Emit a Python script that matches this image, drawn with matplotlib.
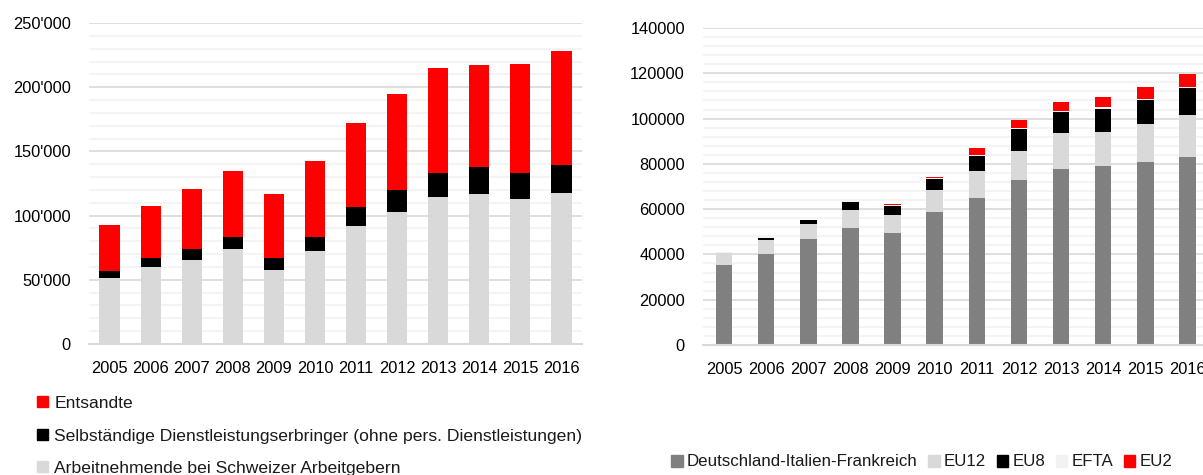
import matplotlib
matplotlib.use("Agg")
import matplotlib.pyplot as plt
from matplotlib.patches import Patch
from matplotlib.ticker import MultipleLocator
import numpy as np

plt.rcParams['font.family'] = ['Liberation Sans', 'DejaVu Sans']
plt.rcParams['font.size'] = 11.5
plt.rcParams['text.color'] = '#1a1a1a'

years = ['2005', '2006', '2007', '2008', '2009', '2010', '2011', '2012', '2013', '2014', '2015', '2016']

# left chart
arbeitnehmende = [51400, 60000, 65500, 74000, 57700, 72500, 92000, 102900, 114600, 116900, 113000, 117700]
selbstaendige = [5500, 7000, 8500, 9400, 9300, 10900, 14800, 17100, 18700, 21100, 20300, 21800]
entsandte = [35800, 40600, 46800, 51400, 49900, 59200, 65500, 74900, 81800, 79500, 84900, 88900]
left_ticks = [0, 50000, 100000, 150000, 200000, 250000]
left_ticklabels = ["0", "50'000", "100'000", "150'000", "200'000", "250'000"]

# right chart
dif = [35300, 40200, 46800, 51700, 49600, 58700, 64900, 72900, 77700, 79100, 80800, 83000]
eu12 = [5500, 6200, 6600, 7900, 7800, 9800, 12000, 12800, 15900, 15000, 16800, 18600]
eu8 = [0, 900, 1800, 3600, 4000, 4800, 6700, 9700, 9300, 10100, 10600, 11900]
efta = [300, 200, 200, 300, 300, 300, 300, 400, 500, 900, 300, 500]
eu2 = [0, 0, 0, 0, 400, 500, 3100, 3600, 3900, 4400, 5300, 5700]
right_ticks = [0, 20000, 40000, 60000, 80000, 100000, 120000, 140000]

FS = 11.8
LFS = 12.6


def style_axis(ax, ymax, minor):
    ax.set_ylim(0, ymax)
    ax.set_xlim(-0.5, len(years) - 0.5)
    ax.yaxis.set_minor_locator(MultipleLocator(minor))
    ax.grid(axis='y', which='major', color='#d9d9d9', lw=1.2, zorder=0)
    ax.grid(axis='y', which='minor', color='#f2f2f2', lw=1.2, zorder=0)
    ax.set_axisbelow(True)
    for sp in ['top', 'right', 'left']:
        ax.spines[sp].set_visible(False)
    ax.spines['bottom'].set_color('#d9d9d9')
    ax.spines['bottom'].set_linewidth(1.5)
    ax.tick_params(axis='both', which='both', length=0)
    ax.tick_params(axis='y', pad=13, labelsize=FS)
    ax.tick_params(axis='x', pad=12, labelsize=FS)


fig = plt.figure(figsize=(12.03, 4.75), dpi=100)

# ---- left
ax1 = fig.add_axes([89 / 1203, 131 / 475, 493 / 1203, 321 / 475])
x = np.arange(len(years))
a = np.array(arbeitnehmende)
s = np.array(selbstaendige)
e = np.array(entsandte)
ax1.bar(x, a, width=0.49, color='#d9d9d9', zorder=2)
ax1.bar(x, s, width=0.49, bottom=a, color='black', zorder=2)
ax1.bar(x, e, width=0.49, bottom=a + s, color='#ff0000', zorder=2)
style_axis(ax1, 250000, 10000)
ax1.set_yticks(left_ticks)
ax1.set_yticklabels(left_ticklabels)
ax1.set_xticks(x)
ax1.set_xticklabels(years)

h1 = [Patch(color='#ff0000'), Patch(color='black'), Patch(color='#d9d9d9')]
l1 = ['Entsandte', 'Selbständige Dienstleistungserbringer (ohne pers. Dienstleistungen)',
      'Arbeitnehmende bei Schweizer Arbeitgebern']
fig.legend(h1, l1, loc='upper left', bbox_to_anchor=(37 / 1203, 1 - 396 / 475),
           frameon=False, fontsize=LFS, handlelength=0.6, handleheight=0.6,
           handletextpad=0.4, labelspacing=1.0, borderaxespad=0, borderpad=0)

# ---- right
ax2 = fig.add_axes([703 / 1203, 130 / 475, 505.5 / 1203, 317 / 475])
layers = [dif, eu12, eu8, efta, eu2]
colors = ['#808080', '#d9d9d9', 'black', '#f2f2f2', '#ff0000']
bottom = np.zeros(len(years))
for vals, c in zip(layers, colors):
    ax2.bar(x, vals, width=0.39, bottom=bottom, color=c, zorder=2)
    bottom = bottom + np.array(vals)
style_axis(ax2, 140000, 4000)
ax2.set_yticks(right_ticks)
ax2.set_yticklabels([str(t) for t in right_ticks])
ax2.set_xticks(x)
ax2.set_xticklabels(years)

h2 = [Patch(color=c) for c in colors]
l2 = ['Deutschland-Italien-Frankreich', 'EU12', 'EU8', 'EFTA', 'EU2']
fig.legend(h2, l2, loc='center left', bbox_to_anchor=(671 / 1203, 1 - 462 / 475), ncol=5,
           frameon=False, fontsize=12.2, handlelength=0.7, handleheight=0.7,
           handletextpad=0.25, columnspacing=0.6, borderaxespad=0, borderpad=0)

fig.savefig('out.png', dpi=100)
